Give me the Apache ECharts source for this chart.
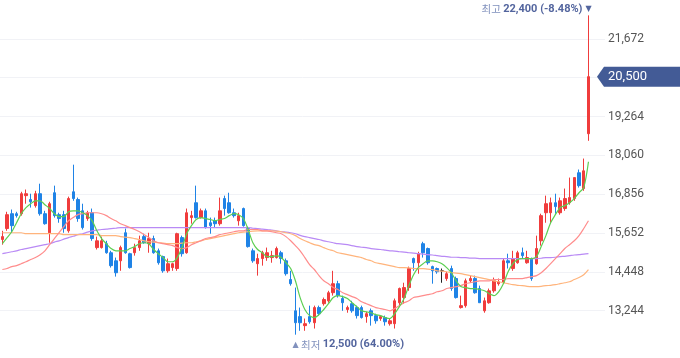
<!DOCTYPE html>
<html><head><meta charset="utf-8">
<script src="https://cdn.jsdelivr.net/npm/echarts@6/dist/echarts.min.js"></script>
<style>html,body{margin:0;padding:0;background:#fff}#c{width:680px;height:358px}</style>
</head><body><div id="c"></div>
<script>
// OHLC values (one per trading day)
const openP = [
15450,15790,16250,16250,16250,16810,16690,16500,16870,16250,
15660,16900,16220,16220,15720,16930,16690,16340,16100,16280,
15200,15200,15320,15040,14790,14790,15660,15010,15040,15200,
15540,15320,15480,15100,14920,14480,14580,14550,15510,15040,
16130,16590,16130,16340,15970,16030,15940,16720,16590,16280,
16030,16410,15790,15100,14700,14860,14890,14890,14890,15040,
14790,14210,13240,13060,12780,13060,12870,13340,13460,13550,
13800,14080,13620,13280,13460,13340,13340,13060,13240,13090,
13000,13030,12840,12840,13490,13650,13960,14860,14730,15320,
15170,14610,14550,14480,14240,14550,14240,13340,13400,14170,
14240,13930,13240,13490,13860,14080,14110,14790,14550,14730,
15040,14730,14860,14700,15410,16280,16280,16590,16280,16410,
16590,16720,17520,17030,18730];
const closeP = [
15540,16220,15880,16190,16870,16870,16620,16870,16250,15940,
16560,16190,16100,15790,16720,16720,16100,15820,16280,15480,
15410,15410,15040,14640,14420,15200,15040,14580,15200,15410,
15350,15480,15040,14730,14480,14700,14700,15630,15010,16280,
16190,16130,16340,15820,15880,15940,16340,16410,16280,16190,
16190,15880,15230,14790,14860,15040,15040,14950,15170,14860,
14390,14080,12870,12870,12840,12900,13340,13150,13590,13800,
14080,13710,13490,13340,13240,13090,13030,13150,13090,12930,
13060,12900,12930,13550,13930,13960,14550,14730,15010,15040,
14730,14480,14450,14480,14390,13930,13650,13400,14170,14240,
13800,13490,13550,13860,14170,14140,14790,14730,14860,15040,
14950,14890,14240,15170,16190,16560,16590,16470,16650,16720,
16750,17370,17120,17580,20500];
const highP = [
15720,16310,16380,16310,16930,17000,16870,16960,17180,16340,
16620,17120,16280,16340,16780,17770,16750,16560,16340,16410,
15540,15540,15410,15100,14890,15260,15790,15040,15320,15570,
15630,15660,15570,15170,14950,14860,14730,15660,15570,16410,
16340,17120,16410,16410,16130,16130,16750,16810,16900,16410,
16280,16440,15850,15170,15010,15100,15200,15100,15230,15100,
14860,14480,13960,13340,13000,13400,13400,13400,13650,13860,
14480,14170,13710,13400,13550,13400,13400,13210,13310,13150,
13090,13090,13000,13620,13960,14110,14610,14890,15070,15380,
15200,14640,14580,14550,14450,14640,14300,13710,14240,14330,
14330,14020,13650,13930,14270,14240,14860,15010,15100,15100,
15200,15100,14890,15570,16250,16810,16750,16870,16750,17030,
17370,17370,17620,17960,22400];
const lowP = [
15290,15720,15660,16130,16190,16560,16440,16440,16190,15910,
15350,16130,15970,15660,15660,16650,16000,15760,16030,15410,
15140,15170,15010,14580,14300,14480,15010,14550,14950,15100,
15320,15040,15010,14670,14420,14420,14480,14480,14920,15010,
15940,16100,16100,15790,15630,15820,15880,16190,16250,16130,
15880,15850,15200,14730,14330,14640,14790,14730,14860,14700,
14330,14020,12500,12620,12620,12840,12690,13090,13400,13490,
13710,13650,13240,13180,13180,13000,13000,12870,12780,12840,
12930,12780,12780,12690,13400,13460,13860,14480,14390,14890,
14670,14080,14390,14110,14170,13860,13620,13310,13340,14110,
13770,13490,13180,13460,13800,14020,14080,14550,14480,14700,
14860,14700,14170,14670,15260,15970,15940,16250,16220,16340,
16530,16650,17060,16960,18510];
// unchanged-price day drawn in black
const dojiIdx = [93];

// moving averages
const ma5 = [
15320,15510,15690,15970,16250,16440,16560,16650,16650,16530,
16410,16250,16160,16160,16310,16340,16340,16280,16190,16030,
15720,15480,15320,15170,15100,15100,15100,15170,15230,15320,
15350,15320,15140,15010,14890,14760,14760,14890,15200,15630,
15880,16070,16130,16100,16070,16030,16070,16100,16190,16250,
16220,16100,15760,15350,15140,15040,14920,14920,14950,14890,
14730,14550,14170,13650,13280,13090,13030,13120,13280,13460,
13650,13710,13680,13620,13490,13370,13240,13210,13180,13120,
13090,13030,13000,13150,13370,13620,14020,14360,14580,14700,
14790,14790,14760,14700,14580,14420,14170,13990,13960,13930,
13930,13900,13860,13770,13710,13830,14080,14450,14700,14830,
14860,14860,14860,14920,15230,15570,15970,16220,16440,16500,
16590,16720,16900,17060,17860];
const ma20 = [
14520,14550,14610,14640,14700,14760,14830,14890,14980,15100,
15290,15480,15660,15850,16030,16130,16220,16250,16280,16280,
16280,16250,16190,16100,16030,15940,15880,15820,15760,15690,
15600,15510,15410,15350,15320,15290,15260,15200,15170,15200,
15290,15350,15410,15480,15510,15540,15600,15630,15660,15690,
15720,15720,15760,15760,15760,15720,15720,15690,15660,15630,
15540,15410,15260,15100,14890,14670,14520,14330,14170,14080,
13960,13900,13800,13740,13680,13620,13520,13460,13400,13340,
13310,13280,13240,13310,13400,13490,13550,13650,13680,13710,
13740,13770,13830,13860,13930,13960,13990,14020,14080,14110,
14140,14170,14170,14170,14210,14210,14210,14240,14240,14240,
14240,14270,14300,14330,14420,14550,14700,14860,15010,15170,
15290,15410,15570,15790,16030];
const ma60 = [
15660,15660,15660,15660,15660,15630,15630,15630,15630,15630,
15630,15630,15630,15600,15600,15600,15600,15600,15600,15600,
15600,15570,15570,15570,15570,15540,15520,15510,15480,15450,
15410,15380,15370,15350,15340,15320,15320,15320,15340,15350,
15350,15380,15410,15450,15480,15510,15540,15570,15600,15630,
15660,15680,15690,15710,15720,15720,15720,15720,15710,15690,
15660,15630,15570,15480,15410,15350,15290,15260,15200,15140,
15100,15040,15010,14980,14950,14920,14890,14830,14790,14730,
14700,14670,14640,14610,14580,14580,14570,14550,14550,14550,
14530,14520,14480,14470,14450,14420,14410,14390,14360,14330,
14300,14270,14240,14210,14170,14140,14110,14080,14050,14030,
14020,14000,13990,13990,14000,14020,14030,14050,14080,14110,
14140,14210,14270,14360,14520];
const ma120 = [
15010,15040,15070,15100,15140,15170,15200,15230,15260,15290,
15320,15370,15410,15460,15510,15550,15600,15630,15680,15720,
15740,15760,15770,15790,15800,15820,15820,15820,15820,15820,
15820,15820,15820,15820,15820,15820,15820,15820,15820,15820,
15820,15820,15820,15820,15820,15820,15820,15820,15820,15820,
15820,15820,15820,15800,15790,15770,15760,15740,15720,15690,
15680,15660,15630,15580,15540,15510,15480,15450,15410,15380,
15350,15320,15310,15290,15260,15230,15210,15200,15170,15150,
15140,15120,15100,15090,15070,15060,15040,15030,15010,15000,
14980,14970,14950,14930,14920,14900,14900,14890,14890,14870,
14870,14860,14860,14860,14860,14860,14860,14860,14860,14860,
14860,14860,14860,14860,14870,14890,14890,14900,14920,14930,
14950,14970,14980,15000,15010];

// y-axis tick labels shown on the right
const yTicks = [13244, 14448, 15652, 16856, 18060, 19264, 20468, 21672];
const tickStep = 1204;
const padBars = 3;

const categories = openP.map((_, i) => 'D' + (i + 1));
for (let k = 0; k < padBars; k++) categories.push('');

const UP = '#f03c3c', DOWN = '#1f83e6', DOJI = '#222222';
const candleData = openP.map((o, i) => {
  const v = [o, closeP[i], lowP[i], highP[i]];
  if (dojiIdx.includes(i)) {
    return { value: v, itemStyle: { color: DOJI, color0: DOJI, borderColor: DOJI, borderColor0: DOJI, borderColorDoji: DOJI } };
  }
  return v;
});

const chart = echarts.init(document.getElementById('c'), null, { renderer: 'canvas' });
const gridRightPad = 75;
const option = {
  animation: false,
  backgroundColor: '#ffffff',
  grid: { left: 0, right: gridRightPad, top: 0, bottom: 8.5, containLabel: false, outerBoundsMode: 'none' },
  xAxis: {
    type: 'category', data: categories, boundaryGap: true,
    axisLine: { show: false }, axisTick: { show: false }, axisLabel: { show: false }, splitLine: { show: false }
  },
  yAxis: {
    type: 'value', position: 'right', scale: true,
    min: tickStep * 10, max: tickStep * 19, interval: tickStep,
    axisLine: { show: false }, axisTick: { show: false },
    axisLabel: {
      margin: 3, color: '#555', fontSize: 12, fontFamily: 'Roboto',
      formatter: v => yTicks.includes(Math.round(v)) ? Math.round(v).toLocaleString('en-US') : ''
    },
    splitLine: { show: true, showMinLine: false, showMaxLine: false, lineStyle: { color: '#f1f2f6', width: 1 } }
  },
  series: [
    {
      type: 'candlestick', data: candleData, barWidth: 3, z: 2,
      itemStyle: { color: UP, color0: DOWN, borderColor: UP, borderColor0: DOWN, borderWidth: 1 }
    },
    { type: 'line', data: ma120, smooth: 0.3, showSymbol: false, z: 3, lineStyle: { color: '#b98af5', width: 1.2 } },
    { type: 'line', data: ma60, smooth: 0.3, showSymbol: false, z: 3, lineStyle: { color: '#ffb47c', width: 1.2 } },
    { type: 'line', data: ma20, smooth: 0.3, showSymbol: false, z: 3, lineStyle: { color: '#ff8c8c', width: 1.2 } },
    { type: 'line', data: ma5, smooth: 0.3, showSymbol: false, z: 4, lineStyle: { color: '#5ccf52', width: 1.2 } }
  ]
};
chart.setOption(option);

// annotations positioned through the chart's own scales
const n = closeP.length;
const last = closeP[n - 1];
const hiVal = Math.max(...highP), hiIdx = highP.indexOf(hiVal);
const loVal = Math.min(...lowP), loIdx = lowP.indexOf(loVal);
const hp = chart.convertToPixel({ gridIndex: 0 }, [hiIdx, hiVal]);
const lp = chart.convertToPixel({ gridIndex: 0 }, [loIdx, loVal]);
const cp = chart.convertToPixel({ gridIndex: 0 }, [n - 1, last]);
const gridRight = chart.getWidth() - gridRightPad;
const fmt = v => v.toLocaleString('en-US');
const hiPct = ((last - hiVal) / hiVal * 100).toFixed(2);
const loPct = ((last - loVal) / loVal * 100).toFixed(2);
const lightBlue = '#8191bd', darkBlue = '#53659e';
const korFont = '"Noto Sans CJK KR", "Noto Sans", sans-serif';
const numFont = 'Roboto, sans-serif';

chart.setOption({
  graphic: [
    {
      type: 'text', x: hp[0], y: hp[1] - 6, z: 10,
      style: { text: '▼', fill: darkBlue, font: '8px "DejaVu Sans"', align: 'center', verticalAlign: 'middle' }
    },
    {
      type: 'text', x: hp[0] - 6, y: hp[1] - 6, z: 10,
      style: {
        text: '{a|최고 }{b|' + fmt(hiVal) + ' (' + hiPct + '%)}', align: 'right', verticalAlign: 'middle',
        rich: {
          a: { fill: lightBlue, fontSize: 10.5, fontFamily: korFont },
          b: { fill: darkBlue, fontSize: 11, fontWeight: 'bold', fontFamily: numFont }
        }
      }
    },
    {
      type: 'text', x: lp[0] - 3, y: lp[1] + 10, z: 10,
      style: {
        text: '{t|▲ }{a|최저 }{b|' + fmt(loVal) + ' (' + loPct + '%)}', align: 'left', verticalAlign: 'middle',
        rich: {
          t: { fill: lightBlue, fontSize: 8, fontFamily: '"DejaVu Sans"' },
          a: { fill: lightBlue, fontSize: 10.5, fontFamily: korFont },
          b: { fill: darkBlue, fontSize: 11, fontWeight: 'bold', fontFamily: numFont }
        }
      }
    },
    {
      type: 'polygon', z: 10,
      shape: { points: [[gridRight - 8, cp[1]], [gridRight - 1, cp[1] - 10], [chart.getWidth(), cp[1] - 10], [chart.getWidth(), cp[1] + 10], [gridRight - 1, cp[1] + 10]] },
      style: { fill: '#435b96' }
    },
    {
      type: 'text', x: gridRight + 3, y: cp[1], z: 11,
      style: { text: fmt(last), fill: '#ffffff', font: '13px Roboto', verticalAlign: 'middle', align: 'left' }
    }
  ]
});
</script>
</body></html>
